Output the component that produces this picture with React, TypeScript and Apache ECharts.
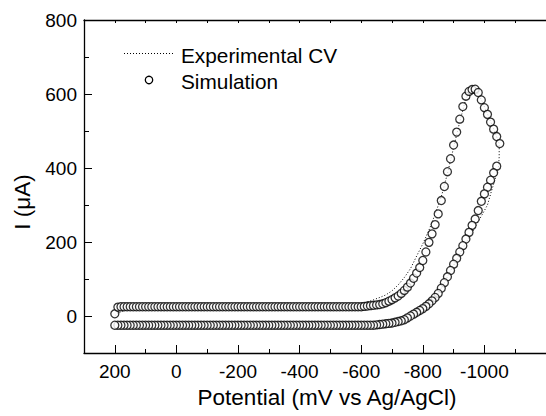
import React, { useEffect, useRef } from "react";
import * as echarts from "echarts";

// Simulation: potential sweep (mV vs Ag/AgCl), forward scan 200 -> -1050
const simPotentialForward = [
  200, 190, 180, 170, 160, 150, 140, 130, 120, 110,
  100, 90, 80, 70, 60, 50, 40, 30, 20, 10,
  0, -10, -20, -30, -40, -50, -60, -70, -80, -90,
  -100, -110, -120, -130, -140, -150, -160, -170, -180, -190,
  -200, -210, -220, -230, -240, -250, -260, -270, -280, -290,
  -300, -310, -320, -330, -340, -350, -360, -370, -380, -390,
  -400, -410, -420, -430, -440, -450, -460, -470, -480, -490,
  -500, -510, -520, -530, -540, -550, -560, -570, -580, -590,
  -600, -610, -620, -630, -640, -650, -660, -670, -680, -690,
  -700, -710, -720, -730, -740, -750, -760, -770, -780, -790,
  -800, -810, -820, -830, -840, -850, -860, -870, -880, -890,
  -900, -910, -920, -930, -940, -950, -960, -970, -980, -990,
  -1000, -1010, -1020, -1030, -1040, -1050,
];

// Simulation current (µA), forward scan
const simCurrentForward = [
  6, 24, 25, 25, 25, 25, 25, 25, 25, 25,
  25, 25, 25, 25, 25, 25, 25, 25, 25, 25,
  25, 25, 25, 25, 25, 25, 25, 25, 25, 25,
  25, 25, 25, 25, 25, 25, 25, 25, 25, 25,
  25, 25, 25, 25, 25, 25, 25, 25, 25, 25,
  25, 25, 25, 25, 25, 25, 25, 25, 25, 25,
  25, 25, 25, 25, 25, 25, 25, 25, 25, 25,
  25, 25, 25, 25, 25, 25, 25, 25, 25, 25,
  25, 26, 27, 28, 29, 30, 31, 33, 36, 40,
  44, 49, 54, 61, 69, 78, 89, 102, 116, 131,
  150, 173, 199, 222, 247, 276, 312, 350, 390, 425,
  462, 497, 532, 566, 594, 607, 612, 613, 604, 584,
  563, 545, 524, 505, 485, 466,
];

// Simulation current (µA), reverse scan -1040 -> 200
const simCurrentReverse = [
  405, 387, 367, 348, 330, 310, 285, 262, 245, 226,
  208, 190, 173, 156, 140, 123, 106, 90, 75, 61,
  50, 41, 33, 26, 20, 15, 10, 5, 0, -5,
  -10, -13, -15, -17, -19, -20, -21, -22, -23, -24,
  -25, -25, -25, -25, -25, -25, -25, -25, -25, -25,
  -25, -25, -25, -25, -25, -25, -25, -25, -25, -25,
  -25, -25, -25, -25, -25, -25, -25, -25, -25, -25,
  -25, -25, -25, -25, -25, -25, -25, -25, -25, -25,
  -25, -25, -25, -25, -25, -25, -25, -25, -25, -25,
  -25, -25, -25, -25, -25, -25, -25, -25, -25, -25,
  -25, -25, -25, -25, -25, -25, -25, -25, -25, -25,
  -25, -25, -25, -25, -25, -25, -25, -25, -25, -25,
  -25, -25, -25, -25, -25,
];
const simPotentialReverse = simPotentialForward.slice(0, simCurrentReverse.length).reverse();

// Experimental CV (dotted)
const expPotential = [
  200, 190, 170, 150, 120, 80, 0, -200, -400, -550,
  -580, -600, -620, -640, -660, -680, -700, -720, -740, -760,
  -780, -800, -820, -840, -860, -880, -900, -920, -940, -955,
  -965, -975, -990, -1010, -1030, -1048, -1048, -1046, -1035, -1022,
  -1010, -990, -970, -950, -930, -910, -890, -870, -850, -830,
  -810, -790, -770, -750, -730, -700, -650, -600, -400, -200,
  0, 200,
];
const expCurrent = [
  0, 8, 14, 18, 22, 24, 25, 26, 26, 27,
  30, 34, 38, 44, 50, 57, 68, 84, 104, 128,
  162, 195, 232, 275, 322, 385, 455, 525, 588, 606,
  610, 607, 585, 546, 506, 466, 430, 405, 370, 335,
  300, 270, 240, 212, 182, 152, 122, 90, 61, 41,
  26, 15, 5, -5, -13, -19, -24, -25, -25, -25,
  -25, -25,
];

// Axis ticks
const xMajorTicks = [200, 0, -200, -400, -600, -800, -1000];
const xMinorTicks = [100, -100, -300, -500, -700, -900, -1100];
const yMajorTicks = [0, 200, 400, 600, 800];
const yMinorTicks = [100, 300, 500, 700];

const legendLabels = ["Experimental CV", "Simulation"];
const xTitle = "Potential (mV vs Ag/AgCl)";
const yTitle = "I (\u03bcA)";

const FONT = "'Liberation Sans', Arial, Helvetica, sans-serif";

export default function App() {
  const ref = useRef<HTMLDivElement>(null);
  useEffect(() => {
    if (!ref.current) return;
    const chart = echarts.init(ref.current, undefined, { renderer: "svg" });
    const fmt = (v: number) => String(v);
    const xBase = {
      type: "value" as const,
      min: -1200,
      max: 300,
      inverse: true,
      splitLine: { show: false },
    };
    const yBase = {
      type: "value" as const,
      min: -100,
      max: 800,
      splitLine: { show: false },
    };
    const simData = [
      ...simPotentialForward.map((v, i) => [v, simCurrentForward[i]]),
      ...simPotentialReverse.map((v, i) => [v, simCurrentReverse[i]]),
    ];
    const expData = expPotential.map((v, i) => [v, expCurrent[i]]);
    chart.setOption({
      animation: false,
      backgroundColor: "#ffffff",
      grid: { left: 84, top: 20, right: -3, bottom: 63 },
      xAxis: [
        {
          ...xBase,
          position: "bottom",
          axisLine: { show: true, onZero: false, lineStyle: { color: "#000", width: 1.3 } },
          axisTick: { show: true, inside: true, length: 8, customValues: xMajorTicks, lineStyle: { color: "#000", width: 1 } },
          axisLabel: { show: true, customValues: xMajorTicks, formatter: fmt, margin: 9, fontSize: 19, color: "#000", fontFamily: FONT },
        },
        {
          ...xBase,
          position: "bottom",
          axisLine: { show: false, onZero: false },
          axisTick: { show: true, inside: true, length: 4, customValues: xMinorTicks, lineStyle: { color: "#000", width: 1 } },
          axisLabel: { show: false },
        },
        {
          ...xBase,
          position: "top",
          axisLine: { show: true, onZero: false, lineStyle: { color: "#000", width: 1.3 } },
          axisTick: { show: true, inside: true, length: 3, customValues: [...xMajorTicks, ...xMinorTicks], lineStyle: { color: "#000", width: 1 } },
          axisLabel: { show: false },
        },
      ],
      yAxis: [
        {
          ...yBase,
          position: "left",
          axisLine: { show: true, onZero: false, lineStyle: { color: "#000", width: 1.3 } },
          axisTick: { show: true, inside: true, length: 8, customValues: yMajorTicks, lineStyle: { color: "#000", width: 1 } },
          axisLabel: { show: true, customValues: yMajorTicks, formatter: fmt, margin: 7, fontSize: 19, color: "#000", fontFamily: FONT },
        },
        {
          ...yBase,
          position: "left",
          axisLine: { show: false, onZero: false },
          axisTick: { show: true, inside: true, length: 5, customValues: yMinorTicks, lineStyle: { color: "#000", width: 1 } },
          axisLabel: { show: false },
        },
      ],
      series: [
        {
          name: legendLabels[0],
          type: "line",
          xAxisIndex: 0,
          yAxisIndex: 0,
          data: expData,
          showSymbol: false,
          symbol: "none",
          lineStyle: { color: "#000", width: 1, type: [1, 2] },
          z: 2,
        },
        {
          name: legendLabels[1],
          type: "scatter",
          xAxisIndex: 0,
          yAxisIndex: 0,
          data: simData,
          symbol: "circle",
          symbolSize: 8,
          itemStyle: { color: "#fff", borderColor: "#000", borderWidth: 1.3 },
          z: 3,
        },
      ],
      graphic: [
        {
          type: "line",
          shape: { x1: 124, y1: 53.5, x2: 175, y2: 53.5 },
          style: { stroke: "#000", lineWidth: 1, lineDash: [1, 2] },
        },
        {
          type: "circle",
          shape: { cx: 149, cy: 80, r: 3.7 },
          style: { fill: "#fff", stroke: "#000", lineWidth: 1.3 },
        },
        {
          type: "text",
          x: 181,
          y: 55,
          style: { text: legendLabels[0], fontSize: 20.8, fill: "#000", fontFamily: FONT, verticalAlign: "middle" },
        },
        {
          type: "text",
          x: 181,
          y: 81,
          style: { text: legendLabels[1], fontSize: 20.8, fill: "#000", fontFamily: FONT, verticalAlign: "middle" },
        },
        {
          type: "text",
          x: 327,
          y: 397,
          style: { text: xTitle, fontSize: 22.5, fill: "#000", fontFamily: FONT, align: "center", verticalAlign: "middle" },
        },
        {
          type: "text",
          x: 22,
          y: 202,
          rotation: Math.PI / 2,
          style: { text: yTitle, fontSize: 22.5, fill: "#000", fontFamily: FONT, align: "center", verticalAlign: "middle" },
        },
      ],
    });
    return () => chart.dispose();
  }, []);
  return (
    <div
      ref={ref}
      style={{ position: "fixed", left: 0, top: 0, width: 546, height: 416, background: "#fff" }}
    />
  );
}
